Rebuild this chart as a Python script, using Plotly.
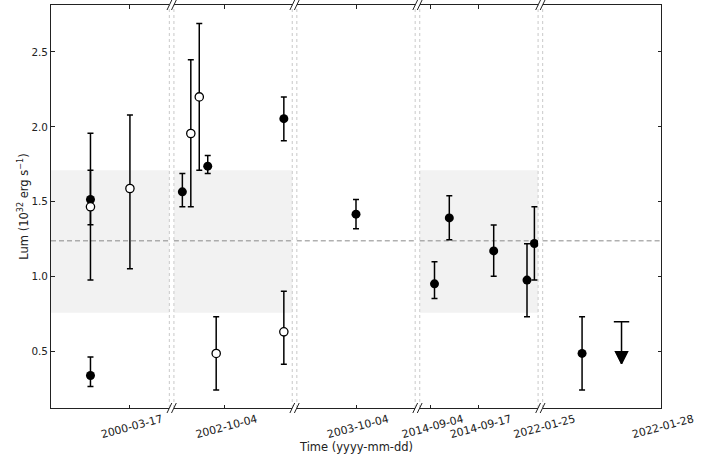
import plotly.graph_objects as go

# ---------------- data ----------------
seg_ranges = [("2000-03-15", "2000-03-18"),
              ("2002-09-28", "2002-10-12"),
              ("2003-10-03", "2003-10-05"),
              ("2014-09-01", "2014-10-03"),
              ("2022-01-25", "2022-01-28")]
seg_ticks = [["2000-03-17"], ["2002-10-04"], ["2003-10-04"],
             ["2014-09-04", "2014-09-17"], ["2022-01-25", "2022-01-28"]]
band_segments = [0, 1, 3]
band_low, band_high = 0.76, 1.71
mean_level = 1.24

# filled points
det_dates = ["2000-03-16", "2000-03-16", "2002-09-29", "2002-10-02", "2002-10-11",
             "2003-10-04", "2014-09-05", "2014-09-09", "2014-09-21", "2014-09-30",
             "2014-10-02", "2022-01-26"]
det_lum = [1.516, 0.342, 1.567, 1.738, 2.055, 1.418, 0.953, 1.393, 1.173, 0.978, 1.222, 0.489]
det_err_hi = [0.195, 0.123, 0.122, 0.071, 0.145, 0.098, 0.147, 0.147, 0.172, 0.242, 0.245, 0.244]
det_err_lo = [0.169, 0.073, 0.100, 0.049, 0.148, 0.098, 0.097, 0.146, 0.170, 0.245, 0.244, 0.244]

# open points
alt_dates = ["2000-03-16", "2000-03-17", "2002-09-30", "2002-10-01", "2002-10-03", "2002-10-11"]
alt_lum = [1.467, 1.589, 1.956, 2.200, 0.489, 0.633]
alt_err_hi = [0.490, 0.491, 0.491, 0.489, 0.244, 0.270]
alt_err_lo = [0.489, 0.536, 0.489, 0.489, 0.244, 0.217]

# upper limit
ul_dates = ["2022-01-27"]
ul_lum = [0.70]
ul_arrow = 0.28

yticks = [0.5, 1.0, 1.5, 2.0, 2.5]
y_range = [0.125, 2.813]

# ---------------- layout helpers ----------------
W, H = 716, 458
ML, MR, MT, MB = 51, 55, 5, 50
PW = W - ML - MR
PH = H - MT - MB
seg_w = 118.4 / PW
gap_w = 4.5 / PW
domains = []
for i in range(5):
    s = i * (seg_w + gap_w)
    domains.append([s, min(1.0, s + seg_w)])

FONT = "DejaVu Sans"
INK = "#222222"

fig = go.Figure()


def axnames(i):
    xa = "x" if i == 0 else f"x{i+1}"
    ya = "y2" if i == 4 else "y"
    return xa, ya


def in_seg(d, i):
    return seg_ranges[i][0] <= d <= seg_ranges[i][1]


for i in range(5):
    xa, ya = axnames(i)
    idx = [k for k, d in enumerate(det_dates) if in_seg(d, i)]
    if idx:
        fig.add_trace(go.Scatter(
            x=[det_dates[k] for k in idx], y=[det_lum[k] for k in idx],
            mode="markers", xaxis=xa, yaxis=ya, showlegend=False,
            marker=dict(size=9, color="black", line=dict(width=0)),
            error_y=dict(type="data", symmetric=False,
                         array=[det_err_hi[k] for k in idx],
                         arrayminus=[det_err_lo[k] for k in idx],
                         color="black", thickness=1.5, width=3)))
    idx = [k for k, d in enumerate(alt_dates) if in_seg(d, i)]
    if idx:
        fig.add_trace(go.Scatter(
            x=[alt_dates[k] for k in idx], y=[alt_lum[k] for k in idx],
            mode="markers", xaxis=xa, yaxis=ya, showlegend=False,
            marker=dict(size=8.3, color="white", line=dict(width=1.3, color="black")),
            error_y=dict(type="data", symmetric=False,
                         array=[alt_err_hi[k] for k in idx],
                         arrayminus=[alt_err_lo[k] for k in idx],
                         color="black", thickness=1.5, width=3)))
    for k, d in enumerate(ul_dates):
        if in_seg(d, i):
            fig.add_trace(go.Scatter(
                x=[d, d], y=[ul_lum[k], ul_lum[k] - ul_arrow],
                mode="lines+markers", xaxis=xa, yaxis=ya, showlegend=False,
                line=dict(color="black", width=1.5),
                marker=dict(symbol=["line-ew", "arrow-down"], size=[11, 12],
                            color="black", opacity=1,
                            line=dict(width=1.5, color="black"))))

layout = dict(
    width=W, height=H,
    margin=dict(l=ML, r=MR, t=MT, b=MB, pad=0),
    paper_bgcolor="white", plot_bgcolor="white",
    font=dict(family=FONT, size=10.4, color=INK),
    showlegend=False,
)

for i in range(5):
    xa, ya = axnames(i)
    key = "xaxis" if i == 0 else f"xaxis{i+1}"
    layout[key] = dict(
        type="date", domain=domains[i], range=list(seg_ranges[i]), anchor=ya,
        tickvals=seg_ticks[i], tickformat="%Y-%m-%d", tickangle=-15,
        ticks="inside", ticklen=3.5, tickwidth=0.8, tickcolor=INK,
        showline=True, linecolor=INK, linewidth=1, mirror="ticks",
        showgrid=False, zeroline=False, ticklabelshift=32, ticklabelstandoff=0,
        tickfont=dict(family=FONT, size=10.9, color=INK),
    )

layout["yaxis"] = dict(
    domain=[0, 1], range=y_range, anchor="x", tickvals=yticks, tickformat=".1f",
    ticks="inside", ticklen=3.5, tickwidth=0.8, tickcolor=INK,
    showline=True, linecolor=INK, linewidth=1, showgrid=False, zeroline=False,
    tickfont=dict(family=FONT, size=10.4, color=INK),
    title=dict(text="Lum (10<sup>32</sup> erg s<sup>−1</sup>)",
               font=dict(family=FONT, size=11.5, color=INK), standoff=0),
)
layout["yaxis2"] = dict(
    domain=[0, 1], range=y_range, anchor="x5", side="right", tickvals=yticks,
    ticks="inside", ticklen=3.5, tickwidth=0.8, tickcolor=INK, showticklabels=False,
    showline=True, linecolor=INK, linewidth=1, showgrid=False, zeroline=False,
)

shapes = []
for i in band_segments:
    xa, ya = axnames(i)
    shapes.append(dict(type="rect", xref=f"{xa} domain", x0=0, x1=1, yref=ya,
                       y0=band_low, y1=band_high, fillcolor="#f2f2f2",
                       line=dict(width=0), layer="below"))
for i in range(5):
    xa, ya = axnames(i)
    shapes.append(dict(type="line", xref=f"{xa} domain", x0=0, x1=1, yref=ya,
                       y0=mean_level, y1=mean_level,
                       line=dict(color="#8a8a8a", width=1, dash="5px,3px"), layer="below"))
    edges = []
    if i > 0:
        edges.append(0)
    if i < 4:
        edges.append(1)
    for e in edges:
        shapes.append(dict(type="line", xref=f"{xa} domain", x0=e, x1=e, yref="paper",
                           y0=0, y1=1, line=dict(color="#d2d2d2", width=1.2, dash="dot"),
                           layer="below"))

# break marks "//"
dx = 2.4 / PW
dy = 5.0 / PH
for i in range(4):
    for xe in (domains[i][1], domains[i + 1][0]):
        for yb in (0, 1):
            shapes.append(dict(type="line", xref="paper", yref="paper",
                               x0=xe - dx, x1=xe + dx, y0=yb - dy, y1=yb + dy,
                               line=dict(color=INK, width=1), layer="above"))
layout["shapes"] = shapes

layout["annotations"] = [dict(
    text="Time (yyyy-mm-dd)", xref="paper", yref="paper", x=0.5,
    y=-(447 - (MT + PH)) / PH,
    xanchor="center", yanchor="middle", showarrow=False,
    font=dict(family=FONT, size=11.5, color=INK))]

fig.update_layout(**layout)
fig.write_html("out.html")
